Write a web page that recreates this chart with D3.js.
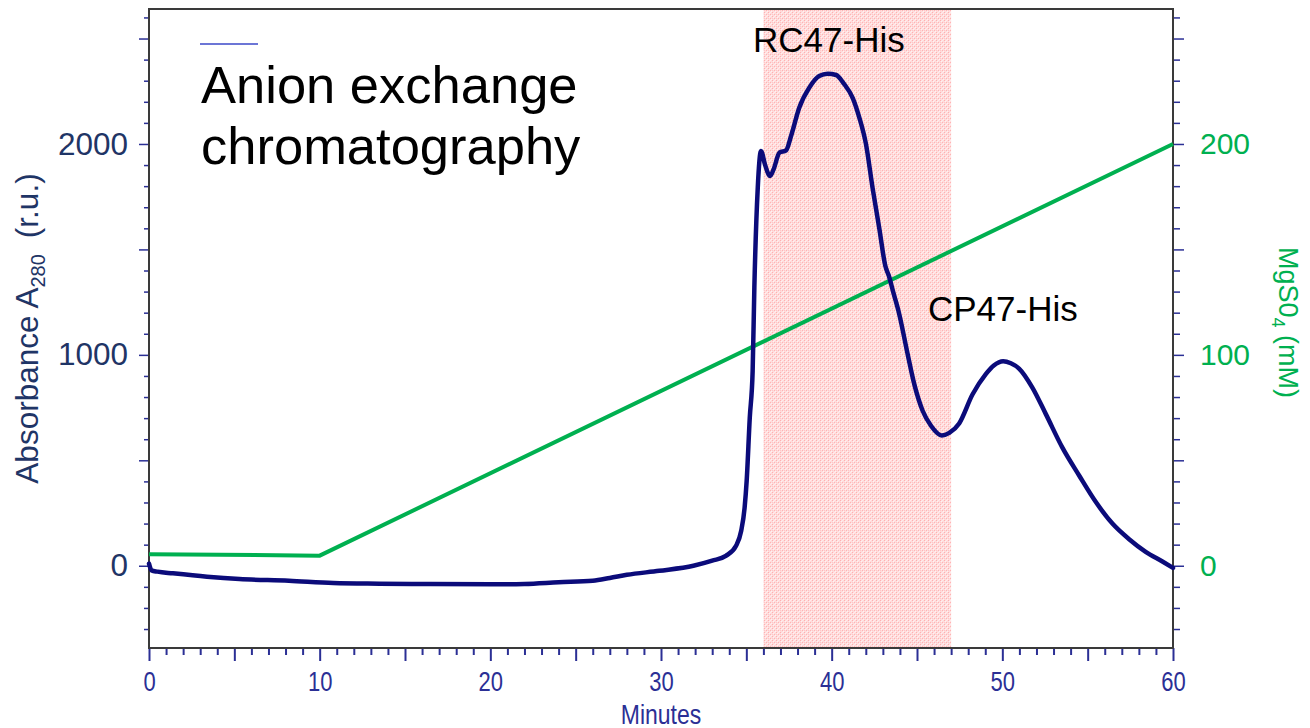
<!DOCTYPE html>
<html>
<head>
<meta charset="utf-8">
<script src="https://cdn.jsdelivr.net/npm/d3@7"></script>
<style>
  html, body { margin: 0; padding: 0; background: #ffffff; }
  svg { display: block; font-family: "Liberation Sans", Arial, sans-serif; }
</style>
</head>
<body>
<svg id="chart" width="1310" height="728"></svg>
<script>
// Elution time (min) and A280 absorbance trace
const minutes = [
  0.00, 0.15, 0.5, 1.4, 3.4, 5.3, 8.2, 10.8, 13.5, 16.5, 20.0, 22.0, 24.0, 26.0, 27.0, 28.0,
  29.9, 31.9, 33.0, 33.8, 34.4, 34.7, 34.9, 35.02, 35.2, 35.37, 35.47, 35.67, 35.86, 36.1,
  36.39, 36.6, 36.94, 37.33, 37.62, 38.1, 38.69, 39.27, 39.77, 40.26, 40.74, 41.23, 41.62,
  42.01, 42.4, 42.79, 43.15, 43.35, 43.6, 43.96, 44.45, 44.84, 45.33, 45.82, 46.45, 46.89,
  47.47, 48.25, 49.03, 49.5, 50.05, 50.5, 50.98, 51.76, 52.55, 53.52, 54.5, 55.48, 56.45,
  57.43, 58.4, 59.38, 60.0
];
const absorbance = [
  10, -22, -28, -36, -52, -63, -71, -82, -85, -87, -88, -86, -78, -71, -58, -43,
  -24, 0, 24, 47, 95, 166, 276, 403, 700, 924, 1319, 1793, 1967, 1900,
  1848, 1880, 1959, 1970, 2038, 2172, 2267, 2322, 2333, 2327, 2283, 2219, 2125,
  1999, 1790, 1600, 1420, 1375, 1300, 1193, 1004, 861, 735, 664, 618, 630,
  675, 812, 909, 950, 970, 960, 935, 845, 719, 560, 428, 302, 200,
  126, 66, 20, -10
];

// MgSO4 gradient (mM)
const gradientMinutes = [0, 10, 60];
const gradientMgSO4 = [5.5, 4.8, 200];

// Pooled fraction window (min)
const fractionWindow = [36, 47];

// Axis ticks and labels
const xLabelTicks = [0, 10, 20, 30, 40, 50, 60];
const leftLabelTicks = [0, 1000, 2000];
const rightLabelTicks = [0, 100, 200];

const title = ["Anion exchange", "chromatography"];
const peakLabels = ["RC47-His", "CP47-His"];
const xTitle = "Minutes";

const svg = d3.select("#chart");
const plot = { left: 149, right: 1173, top: 9, bottom: 648 };

const x = d3.scaleLinear().domain([0, 60]).range([plot.left, plot.right]);
const yL = d3.scaleLinear().domain([-390, 2640]).range([plot.bottom, plot.top]);
const yR = d3.scaleLinear().domain([-39, 264]).range([plot.bottom, plot.top]);

const navy = "#1f3566";
const tickBlue = "#2b2f95";
const green = "#00b050";

// Lightly textured pink fill for the fraction window
const defs = svg.append("defs");
const pat = defs.append("pattern")
  .attr("id", "dither").attr("width", 4).attr("height", 4)
  .attr("patternUnits", "userSpaceOnUse");
pat.append("rect").attr("width", 4).attr("height", 4).attr("fill", "#ffdcdc");
[[0, 0, "#ffb0b0"], [2, 2, "#ffb4b4"], [1, 1, "#fff2f2"], [3, 3, "#fff2f2"],
 [2, 0, "#ffeaea"], [0, 2, "#ffc8c8"]].forEach(([px, py, c]) => {
  pat.append("rect").attr("x", px).attr("y", py).attr("width", 1).attr("height", 1)
    .attr("fill", c).attr("shape-rendering", "crispEdges");
});

svg.append("rect")
  .attr("x", x(fractionWindow[0]))
  .attr("y", plot.top)
  .attr("width", x(fractionWindow[1]) - x(fractionWindow[0]))
  .attr("height", plot.bottom - plot.top)
  .attr("fill", "url(#dither)");

// Left axis (A280)
const gL = svg.append("g").attr("transform", `translate(${plot.left},0)`)
  .call(d3.axisLeft(yL).tickValues(d3.range(-300, 2700, 100))
    .tickFormat(d => leftLabelTicks.includes(d) ? d : "").tickSizeOuter(0));
gL.select(".domain").remove();
gL.selectAll(".tick line").attr("stroke", tickBlue).attr("stroke-width", 1.5)
  .attr("x2", d => d % 500 === 0 ? -10 : -5);
gL.selectAll(".tick text").attr("x", -21).attr("fill", navy)
  .attr("font-size", 31.5).attr("font-family", "Liberation Sans, Arial, sans-serif");

// Right axis (MgSO4)
const gR = svg.append("g").attr("transform", `translate(${plot.right},0)`)
  .call(d3.axisRight(yR).tickValues(d3.range(-30, 270, 10))
    .tickFormat(d => rightLabelTicks.includes(d) ? d : "").tickSizeOuter(0));
gR.select(".domain").remove();
gR.selectAll(".tick line").attr("stroke", tickBlue).attr("stroke-width", 1.5)
  .attr("x2", d => d % 50 === 0 ? 11 : 7);
gR.selectAll(".tick text").attr("x", 27).attr("fill", green)
  .attr("font-size", 30).attr("font-family", "Liberation Sans, Arial, sans-serif");

// Bottom axis (time)
const gB = svg.append("g").attr("transform", `translate(0,${plot.bottom})`)
  .call(d3.axisBottom(x).tickValues(d3.range(0, 61, 1))
    .tickFormat(d => xLabelTicks.includes(d) ? d : "").tickSizeOuter(0));
gB.select(".domain").remove();
gB.selectAll(".tick line").attr("stroke", tickBlue).attr("stroke-width", 2)
  .attr("y2", d => d % 5 === 0 ? 13 : 7);
gB.selectAll(".tick text")
  .attr("y", null).attr("dy", null)
  .attr("transform", "translate(0,43) scale(1,1.25)")
  .attr("fill", tickBlue).attr("font-size", 22)
  .attr("font-family", "Liberation Sans, Arial, sans-serif");

svg.append("text")
  .attr("transform", `translate(${(plot.left + plot.right) / 2},724) scale(1,1.2)`)
  .attr("text-anchor", "middle").attr("fill", tickBlue).attr("font-size", 23)
  .text(xTitle);

// Plot frame
svg.append("rect")
  .attr("x", plot.left).attr("y", plot.top)
  .attr("width", plot.right - plot.left).attr("height", plot.bottom - plot.top)
  .attr("fill", "none").attr("stroke", "#3a3a3a").attr("stroke-width", 2);

// Gradient line
const gradient = gradientMinutes.map((t, i) => [t, gradientMgSO4[i]]);
svg.append("path")
  .datum(gradient)
  .attr("fill", "none").attr("stroke", green).attr("stroke-width", 4)
  .attr("d", d3.line().x(d => x(d[0])).y(d => yR(d[1])));

// Absorbance trace
const trace = minutes.map((t, i) => [t, absorbance[i]]);
svg.append("path")
  .datum(trace)
  .attr("fill", "none").attr("stroke", "#0b0b7a").attr("stroke-width", 4.5)
  .attr("stroke-linejoin", "round").attr("stroke-linecap", "round")
  .attr("d", d3.line().curve(d3.curveMonotoneX).x(d => x(d[0])).y(d => yL(d[1])));

// Axis titles
const lt = svg.append("text")
  .attr("transform", `translate(38,${(plot.top + plot.bottom) / 2}) rotate(-90)`)
  .attr("text-anchor", "middle").attr("fill", navy).attr("font-size", 31.5);
lt.append("tspan").text("Absorbance A");
lt.append("tspan").attr("font-size", 20).attr("dy", 7).text("280");
lt.append("tspan").attr("dy", -7).attr("dx", 16).text("(r.u.)");

const rt = svg.append("text")
  .attr("transform", `translate(1279,${(plot.top + plot.bottom) / 2 - 6}) rotate(90)`)
  .attr("text-anchor", "middle").attr("fill", green).attr("font-size", 27);
rt.append("tspan").text("MgS0");
rt.append("tspan").attr("font-size", 18).attr("dy", 7).text("4");
rt.append("tspan").attr("dy", -7).text(" (mM)");

// Legend stub and title
svg.append("line")
  .attr("x1", 200).attr("x2", 258).attr("y1", 44).attr("y2", 44)
  .attr("stroke", "#3b48c8").attr("stroke-width", 1.5);

svg.append("text").attr("x", 201).attr("y", 103)
  .attr("font-size", 52.5).attr("fill", "#000").text(title[0]);
svg.append("text").attr("x", 201).attr("y", 164)
  .attr("font-size", 52.5).attr("fill", "#000").text(title[1]);

// Peak labels
svg.append("text").attr("x", 753).attr("y", 52)
  .attr("font-size", 35).attr("fill", "#000").text(peakLabels[0]);
svg.append("text").attr("x", 928).attr("y", 321)
  .attr("font-size", 35).attr("fill", "#000").text(peakLabels[1]);
</script>
</body>
</html>
